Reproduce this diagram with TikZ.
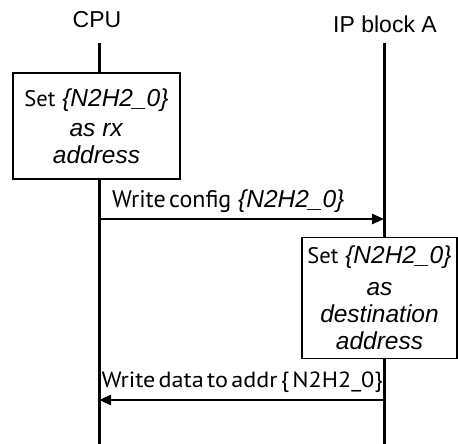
\documentclass[tikz,border=0pt]{standalone}
\usepackage{fontspec}
\setmainfont{Liberation Sans}
\newfontfamily\hum[WordSpace=0.55]{PT Sans}
\newfontfamily\humwide[WordSpace=0.5,FakeStretch=1.1]{PT Sans}
\usetikzlibrary{arrows.meta}

\begin{document}
\begin{tikzpicture}[x=1pt,y=-1pt,
  lifeline/.style={line width=3pt},
  head/.style={font=\fontsize{23}{26}\selectfont, inner sep=0pt},
  actbox/.style={draw, line width=1.8pt, fill=white, inner sep=0pt,
    align=center, font=\fontsize{24.5}{27}\selectfont},
  msg/.style={line width=2.6pt, -{Triangle[length=12pt,width=10pt]}},
  msglbl/.style={font=\fontsize{24.5}{27}\selectfont, inner sep=0pt}]
  \useasboundingbox (0,0) rectangle (458,444);

  % participants
  \node[head, anchor=base] (cpu) at (97,28) {CPU};
  \node[head, anchor=base] (ip) at (385,33) {IP block A};
  \coordinate (cpuTop) at (99,43);
  \coordinate (ipTop) at (384,43);
  \coordinate (cpuEnd) at (99,444);
  \coordinate (ipEnd) at (384,444);
  \draw[lifeline] (cpuTop) -- (cpuEnd);
  \draw[lifeline] (ipTop) -- (ipEnd);

  % CPU activity
  \node[actbox, minimum width=167pt, minimum height=106pt] (setrx) at (96.5,126)
    {{\hum\fontsize{22.5}{27}\selectfont Set} \textit{\{N2H2\_0\}}\\[3pt] \textit{as rx}\\ \textit{address}};

  % configuration message
  \coordinate (wcA) at (99,219);
  \coordinate (wcB) at (384,219);
  \draw[msg] (wcA) -- (wcB);
  \node[msglbl, anchor=base west] (wcl) at (112,207)
    {{\hum\fontsize{24}{27}\selectfont Write config} \textit{\{N2H2\_0\}}};

  % IP block activity
  \node[actbox, minimum width=155pt, minimum height=121pt] (setdst) at (379.5,298)
    {{\hum\fontsize{22.5}{27}\selectfont Set} \textit{\{N2H2\_0\}}\\[5pt] \textit{as}\\ \textit{destination}\\ \textit{address}};

  % data message
  \coordinate (wdA) at (384,400);
  \coordinate (wdB) at (99,400);
  \draw[msg] (wdA) -- (wdB);
  \node[msglbl, anchor=base east] (wdl) at (383,387)
    {\humwide\fontsize{22}{24}\selectfont Write data to addr \{ N2H2\_0\}};
\end{tikzpicture}
\end{document}
